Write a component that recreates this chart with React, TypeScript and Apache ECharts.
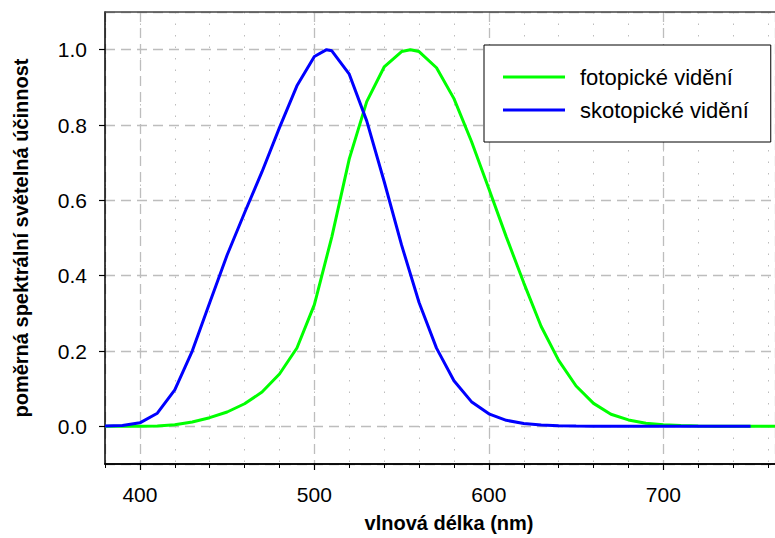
import React, { useEffect, useRef } from "react";
import * as echarts from "echarts";

// Photopic luminous efficiency V(λ)
const photopicNm = [380, 390, 400, 410, 420, 430, 440, 450, 460, 470, 480, 490, 500, 510, 520, 530, 540, 550, 555, 560, 570, 580, 590, 600, 610, 620, 630, 640, 650, 660, 670, 680, 690, 700, 710, 720, 730, 740, 750, 760, 770, 780];
const photopicV = [0.00004, 0.00012, 0.0004, 0.0012, 0.004, 0.0116, 0.023, 0.038, 0.06, 0.091, 0.139, 0.208, 0.323, 0.503, 0.71, 0.862, 0.954, 0.995, 1.0, 0.995, 0.952, 0.87, 0.757, 0.631, 0.503, 0.381, 0.265, 0.175, 0.107, 0.061, 0.032, 0.017, 0.0082, 0.0041, 0.0021, 0.00105, 0.00052, 0.00025, 0.00012, 0.00006, 0.00003, 0.000015];

// Scotopic luminous efficiency V'(λ)
const scotopicNm = [380, 390, 400, 410, 420, 430, 440, 450, 460, 470, 480, 490, 500, 507, 510, 520, 530, 540, 550, 560, 570, 580, 590, 600, 610, 620, 630, 640, 650, 660, 670, 680, 690, 700, 710, 720, 730, 740, 750];
const scotopicV = [0.000589, 0.002209, 0.00929, 0.03484, 0.0966, 0.1998, 0.3281, 0.455, 0.567, 0.676, 0.793, 0.904, 0.982, 1.0, 0.997, 0.935, 0.811, 0.65, 0.481, 0.3288, 0.2076, 0.1212, 0.0655, 0.03315, 0.01593, 0.00737, 0.003335, 0.001497, 0.000677, 0.000313, 0.000148, 0.0000715, 0.0000353, 0.0000178, 0.0000091, 0.0000048, 0.0000025, 0.0000014, 0.0000008];

const seriesNames = ["fotopické vidění", "skotopické vidění"];
const xName = "vlnová délka (nm)";
const yName = "poměrná spektrální světelná účinnost";

const X_MIN = 380;
const X_MAX = 764;
const Y_MIN = -0.1;
const Y_MAX = 1.1;

const FONT = "'Liberation Sans', Arial, Helvetica, sans-serif";

export default function App() {
  const ref = useRef<HTMLDivElement>(null);

  useEffect(() => {
    document.body.style.margin = "0";
    if (!ref.current) return;
    const chart = echarts.init(ref.current, undefined, { renderer: "svg" });
    const gridColor = "#bdbdbd";
    chart.setOption({
      animation: false,
      backgroundColor: "#ffffff",
      textStyle: { fontFamily: FONT },
      grid: { left: 105, right: 0, top: 12, bottom: 69, containLabel: false },
      legend: {
        left: 484,
        top: 45,
        orient: "vertical",
        padding: [21, 22, 21, 19],
        borderColor: "#000",
        borderWidth: 1,
        backgroundColor: "#fff",
        icon: "rect",
        itemWidth: 62,
        itemHeight: 3,
        itemGap: 11,
        textStyle: { fontFamily: FONT, fontSize: 22, color: "#000", lineHeight: 22, padding: [0, 0, 0, 10] },
        data: seriesNames,
      },
      xAxis: [
        {
          type: "value",
          min: X_MIN,
          max: X_MAX,
          interval: 20,
          position: "bottom",
          axisLine: { show: true, onZero: false, lineStyle: { color: "#000", width: 1.5 } },
          axisTick: { show: true, length: 4, lineStyle: { color: "#000", width: 1 } },
          axisLabel: { show: false },
          splitLine: { show: true, lineStyle: { color: gridColor, width: 1, type: [1.5, 10] } },
        },
        {
          type: "value",
          min: X_MIN,
          max: X_MAX,
          splitNumber: 4,
          position: "bottom",
          name: xName,
          nameLocation: "middle",
          nameGap: 49,
          nameTextStyle: { fontFamily: FONT, fontSize: 20, fontWeight: "bold", color: "#000", padding: [0, 0, 0, 18] },
          axisLine: { show: true, onZero: false, lineStyle: { color: "#000", width: 1.5 } },
          axisTick: { show: true, length: 6, lineStyle: { color: "#000", width: 1.2 } },
          axisLabel: {
            fontFamily: FONT,
            fontSize: 21,
            color: "#000",
            margin: 20,
            showMinLabel: false,
            showMaxLabel: false,
          },
          splitLine: { show: true, lineStyle: { color: gridColor, width: 1.3, type: [10, 6] } },
        },
        {
          type: "value",
          min: X_MIN,
          max: X_MAX,
          position: "top",
          axisLine: { show: true, onZero: false, lineStyle: { color: "#444", width: 1.5 } },
          axisTick: { show: false },
          axisLabel: { show: false },
          splitLine: { show: false },
        },
      ],
      yAxis: {
        type: "value",
        min: Y_MIN,
        max: Y_MAX,
        splitNumber: 6,
        name: yName,
        nameLocation: "middle",
        nameGap: 74,
        nameTextStyle: { fontFamily: FONT, fontSize: 20, fontWeight: "bold", color: "#000" },
        axisLine: { show: true, onZero: false, lineStyle: { color: "#000", width: 1.5 } },
        axisTick: { show: true, length: 6, lineStyle: { color: "#000", width: 1.2 } },
        axisLabel: {
          fontFamily: FONT,
          fontSize: 21,
          color: "#000",
          margin: 18,
          showMinLabel: false,
          showMaxLabel: false,
          formatter: (v: number) => v.toFixed(1),
        },
        splitLine: { show: true, lineStyle: { color: gridColor, width: 1.3, type: [10, 6] } },
      },
      series: [
        {
          name: seriesNames[0],
          type: "line",
          xAxisIndex: 1,
          symbol: "none",
          clip: true,
          lineStyle: { color: "#00ff00", width: 3 },
          itemStyle: { color: "#00ff00" },
          data: photopicNm.map((x, i) => [x, photopicV[i]]),
          z: 3,
        },
        {
          name: seriesNames[1],
          type: "line",
          xAxisIndex: 1,
          symbol: "none",
          clip: true,
          lineStyle: { color: "#0000ff", width: 3 },
          itemStyle: { color: "#0000ff" },
          data: scotopicNm.map((x, i) => [x, scotopicV[i]]),
          z: 4,
        },
      ],
    });
    return () => chart.dispose();
  }, []);

  return <div ref={ref} style={{ width: 775, height: 538 }} />;
}
